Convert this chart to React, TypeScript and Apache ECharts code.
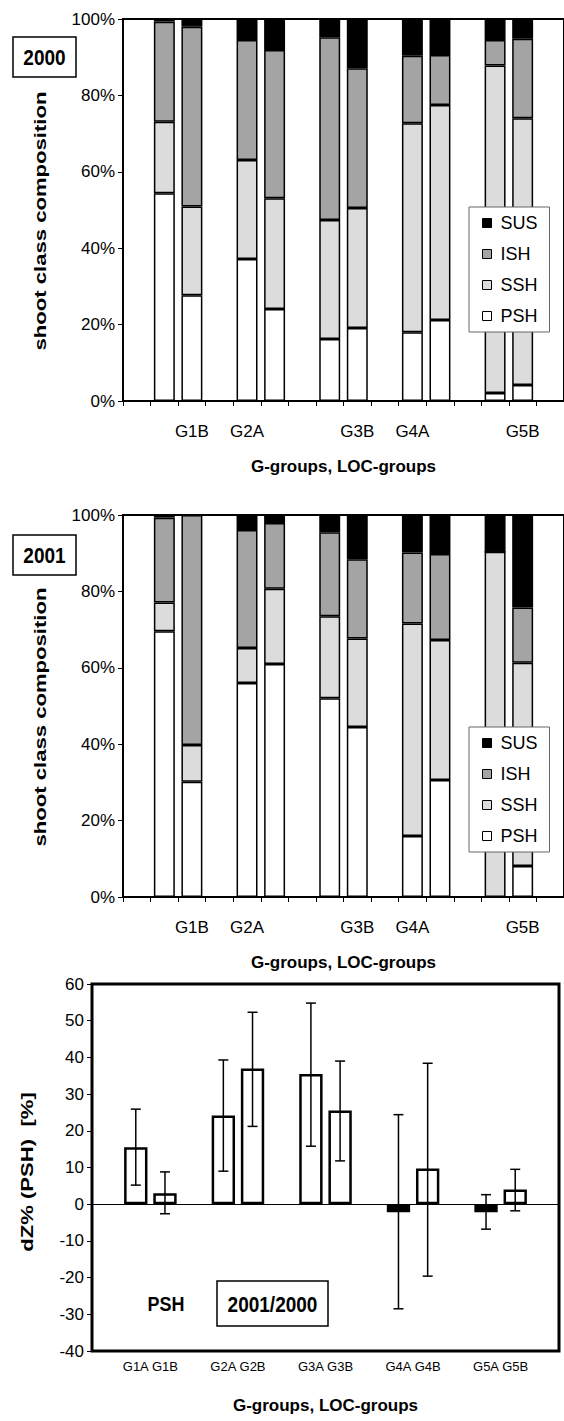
import React, { useEffect, useRef } from "react";
import * as echarts from "echarts";

const FONT = "'Liberation Sans', Arial, Helvetica, sans-serif";

// 16 category slots: blank separators between the G-groups
const categories = ["", "G1A", "G1B", "", "G2A", "G2B", "", "G3A", "G3B", "", "G4A", "G4B", "", "G5A", "G5B", ""];
const legendOrder = ["SUS", "ISH", "SSH", "PSH"];
const yTicksPct = { min: 0, max: 100, interval: 20 };

// 2000 composition (%) per group G1A..G5B
const psh2000 = [54.4, 27.7, 37.2, 24.1, 16.2, 19.1, 18.0, 21.2, 2.1, 4.2];
const ssh2000 = [18.7, 23.2, 25.9, 29.0, 31.2, 31.4, 54.7, 56.3, 85.7, 69.8];
const ish2000 = [26.2, 47.1, 31.4, 38.8, 47.8, 36.6, 17.7, 13.1, 6.7, 20.8];
const sus2000 = [0.7, 2.0, 5.5, 8.1, 4.8, 12.9, 9.6, 9.4, 5.5, 5.2];

// 2001 composition (%)
const psh2001 = [69.6, 30.2, 56.0, 61.0, 52.0, 44.5, 16.0, 30.6, 0, 8.1];
const ssh2001 = [7.5, 9.6, 9.2, 19.7, 21.5, 23.2, 55.6, 36.7, 90.4, 53.2];
const ish2001 = [22.2, 60.2, 30.9, 17.2, 22.0, 20.7, 18.6, 22.5, 0, 14.5];
const sus2001 = [0.7, 0, 3.9, 2.1, 4.5, 11.6, 9.8, 10.2, 9.6, 24.2];

// dZ% (PSH) 2001/2000 with error ranges
const dz = [15.5, 3.0, 24.2, 37.0, 35.5, 25.5, -2.2, 9.7, -2.2, 4.0];
const dzLow = [5.2, -2.6, 9.0, 21.2, 15.8, 11.8, -28.5, -19.6, -6.8, -1.8];
const dzHigh = [25.9, 8.8, 39.3, 52.3, 54.8, 39.0, 24.4, 38.4, 2.6, 9.5];

const colors: Record<string, string> = { PSH: "#ffffff", SSH: "#dcdcdc", ISH: "#a4a4a4", SUS: "#000000" };

const slotIdx = categories.map((c, i) => (c === "" ? -1 : i)).filter((i) => i >= 0);
const toSlots = (vals: number[]) => {
  let k = 0;
  return categories.map((c) => (c === "" ? null : vals[k++]));
};

function stacked(gi: number, data: Record<string, number[]>) {
  return ["PSH", "SSH", "ISH", "SUS"].map((name) => ({
    name,
    type: "bar",
    stack: "s" + gi,
    xAxisIndex: gi,
    yAxisIndex: gi,
    barCategoryGap: "24%",
    data: toSlots(data[name]),
    itemStyle: { color: colors[name], borderColor: "#000", borderWidth: 1.5 },
    emphasis: { disabled: true },
  }));
}

function topX(gi: number) {
  return {
    gridIndex: gi,
    type: "category",
    data: categories,
    boundaryGap: true,
    axisLine: { show: true, lineStyle: { color: "#000", width: 2 } },
    axisTick: { show: true, interval: 0, length: 5, lineStyle: { color: "#000", width: 1 } },
    axisLabel: { interval: 1, margin: 22, fontSize: 17, color: "#000", fontFamily: FONT },
    name: "G-groups, LOC-groups",
    nameLocation: "middle",
    nameGap: 57,
    nameTextStyle: { fontWeight: "bold", fontSize: 17, color: "#000", fontFamily: FONT },
  };
}

function topY(gi: number) {
  return {
    gridIndex: gi,
    type: "value",
    ...yTicksPct,
    axisLine: { show: true, lineStyle: { color: "#000", width: 2 } },
    axisTick: { show: true, length: 5, lineStyle: { color: "#000", width: 1 } },
    axisLabel: { formatter: "{value}%", fontSize: 17, margin: 8, color: "#000", fontFamily: FONT },
    splitLine: { show: false },
  };
}

function legend(top: number) {
  return {
    orient: "vertical",
    left: 469,
    top,
    data: legendOrder,
    icon: "rect",
    itemWidth: 9,
    itemHeight: 9,
    itemGap: 13,
    padding: [7, 12, 7, 13],
    backgroundColor: "#fff",
    borderColor: "#666",
    borderWidth: 1,
    borderRadius: 0,
    selectedMode: false,
    itemStyle: { borderColor: "#000", borderWidth: 1 },
    textStyle: { fontSize: 18, color: "#000", fontFamily: FONT, padding: [0, 0, 0, 4] },
  };
}

function rotTitle(text: string, x: number, y: number) {
  return {
    type: "text",
    x,
    y,
    rotation: Math.PI / 2,
    scaleX: 1.3,
    style: { text, font: `bold 17px ${FONT}`, fill: "#000", align: "center", verticalAlign: "middle" },
  };
}

function boxText(text: string, x: number, y: number, w: number, h: number) {
  return [
    { type: "rect", shape: { x, y, width: w, height: h }, style: { fill: "#fff", stroke: "#000", lineWidth: 1.5 } },
    {
      type: "text",
      x: x + w / 2,
      y: y + h / 2,
      scaleY: 1.15,
      style: { text, font: `bold 19px ${FONT}`, fill: "#000", align: "center", verticalAlign: "middle" },
    },
  ];
}

export default function App() {
  const ref = useRef<HTMLDivElement>(null);
  useEffect(() => {
    if (!ref.current) return;
    const chart = echarts.init(ref.current, undefined, { renderer: "svg" });
    const option = {
      animation: false,
      backgroundColor: "#fff",
      textStyle: { fontFamily: FONT },
      grid: [
        { left: 123, top: 19, width: 443, height: 382, show: true, borderColor: "#000", borderWidth: 2 },
        { left: 123, top: 515, width: 443, height: 382, show: true, borderColor: "#000", borderWidth: 2 },
        { left: 92, top: 984, width: 467, height: 367, show: true, borderColor: "#000", borderWidth: 3 },
      ],
      xAxis: [
        topX(0),
        topX(1),
        {
          gridIndex: 2,
          type: "category",
          data: categories,
          boundaryGap: true,
          axisLine: { show: false },
          axisTick: { show: false },
          axisLabel: { interval: 0, margin: 9, fontSize: 13, color: "#000", fontFamily: FONT },
          name: "G-groups, LOC-groups",
          nameLocation: "middle",
          nameGap: 46,
          nameTextStyle: { fontWeight: "bold", fontSize: 17, color: "#000", fontFamily: FONT },
        },
      ],
      yAxis: [
        topY(0),
        topY(1),
        {
          gridIndex: 2,
          type: "value",
          min: -40,
          max: 60,
          interval: 10,
          axisLine: { show: true, lineStyle: { color: "#000", width: 2 } },
          axisTick: { show: true, length: 5, lineStyle: { color: "#000", width: 1 } },
          axisLabel: { fontSize: 17, margin: 8, color: "#000", fontFamily: FONT },
          splitLine: { show: false },
        },
      ],
      legend: [legend(207), legend(727)],
      series: [
        ...stacked(0, { PSH: psh2000, SSH: ssh2000, ISH: ish2000, SUS: sus2000 }),
        ...stacked(1, { PSH: psh2001, SSH: ssh2001, ISH: ish2001, SUS: sus2001 }),
        {
          name: "dZ",
          type: "bar",
          xAxisIndex: 2,
          yAxisIndex: 2,
          barCategoryGap: "20%",
          data: toSlots(dz).map((v) =>
            v === null ? null : { value: v, itemStyle: { color: v < 0 ? "#000" : "#fff" } }
          ),
          itemStyle: { borderColor: "#000", borderWidth: 2.5 },
          emphasis: { disabled: true },
          markLine: {
            silent: true,
            symbol: "none",
            label: { show: false },
            lineStyle: { color: "#000", width: 1, type: "solid" },
            data: [{ yAxis: 0 }],
          },
        },
        {
          name: "err",
          type: "custom",
          xAxisIndex: 2,
          yAxisIndex: 2,
          z: 5,
          encode: { x: 0, y: [1, 2] },
          data: slotIdx.map((ci, k) => [ci, dzLow[k], dzHigh[k]]),
          renderItem: (params: any, api: any) => {
            const x = api.value(0);
            const top = api.coord([x, api.value(2)]);
            const bot = api.coord([x, api.value(1)]);
            const w = 5;
            const st = { stroke: "#000", lineWidth: 1.5 };
            return {
              type: "group",
              children: [
                { type: "line", shape: { x1: top[0], y1: top[1], x2: bot[0], y2: bot[1] }, style: st },
                { type: "line", shape: { x1: top[0] - w, y1: top[1], x2: top[0] + w, y2: top[1] }, style: st },
                { type: "line", shape: { x1: bot[0] - w, y1: bot[1], x2: bot[0] + w, y2: bot[1] }, style: st },
              ],
            };
          },
        },
      ],
      graphic: [
        ...boxText("2000", 13, 37, 63, 40),
        ...boxText("2001", 13, 535, 63, 40),
        rotTitle("shoot class composition", 40, 221),
        rotTitle("shoot class composition", 40, 717),
        rotTitle("dZ% (PSH)  [%]", 27, 1172),
        {
          type: "text",
          x: 166,
          y: 1304,
          scaleY: 1.15,
          style: { text: "PSH", font: `bold 18px ${FONT}`, fill: "#000", align: "center", verticalAlign: "middle" },
        },
        ...boxText("2001/2000", 217, 1281, 111, 45),
      ],
    };
    chart.setOption(option as any);
    return () => chart.dispose();
  }, []);
  return (
    <div
      ref={ref}
      style={{ position: "absolute", left: 0, top: 0, width: 564, height: 1421, background: "#fff" }}
    />
  );
}
